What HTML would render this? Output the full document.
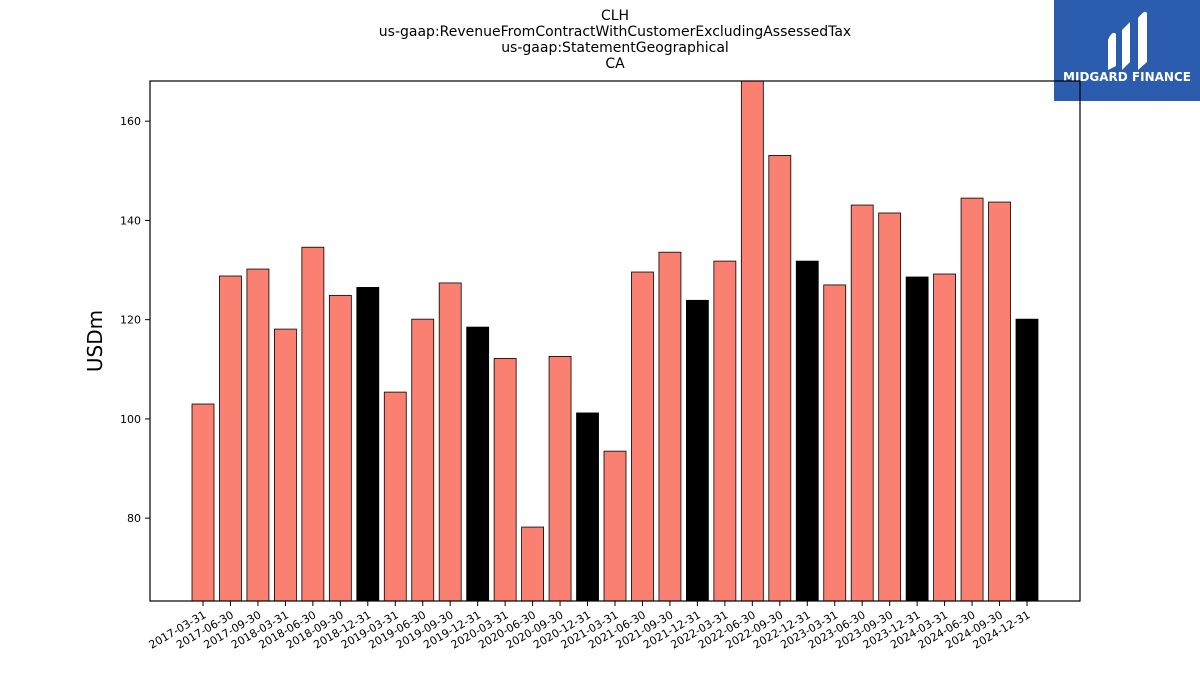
<!DOCTYPE html>
<html><head><meta charset="utf-8"><style>
body{margin:0;background:#fff;font-family:"Liberation Sans","DejaVu Sans",sans-serif}
</style></head><body>
<svg id="chart" width="1200" height="675" xmlns="http://www.w3.org/2000/svg" font-family="DejaVu Sans, Liberation Sans, sans-serif">
<g font-size="14" text-anchor="middle" fill="#000">
<text x="615" y="20">CLH</text>
<text x="615" y="36">us-gaap:RevenueFromContractWithCustomerExcludingAssessedTax</text>
<text x="615" y="52">us-gaap:StatementGeographical</text>
<text x="615" y="68">CA</text>
</g>
<g>
<rect x="1054" y="0" width="146" height="101" fill="#2b5cad"/>
<path d="M1108 70 L1108 40 Q1112 30 1116 34 L1116 66 Z M1122 70 L1122 30 L1130 22 L1130 62 Z M1138 70 L1138 18 Q1146 8 1147 14 L1147 62 Z" fill="#fff"/>
<text x="1127" y="81" font-size="12" font-weight="bold" fill="#fff" text-anchor="middle">MIDGARD FINANCE</text>
</g>
<g id="bars"></g>
<rect x="150" y="81" width="930" height="520" fill="none" stroke="#000" stroke-width="1.2"/>
<g id="yaxis" font-size="11"></g>
<g id="xaxis" font-size="11"></g>
<text x="102" y="341" font-size="20" text-anchor="middle" transform="rotate(-90 102 341)">USDm</text>
</svg>
<script>
const categories=["2017-03-31","2017-06-30","2017-09-30","2018-03-31","2018-06-30","2018-09-30","2018-12-31","2019-03-31","2019-06-30","2019-09-30","2019-12-31","2020-03-31","2020-06-30","2020-09-30","2020-12-31","2021-03-31","2021-06-30","2021-09-30","2021-12-31","2022-03-31","2022-06-30","2022-09-30","2022-12-31","2023-03-31","2023-06-30","2023-09-30","2023-12-31","2024-03-31","2024-06-30","2024-09-30","2024-12-31"];
const values=[103.0,128.8,130.2,118.1,134.6,124.9,126.5,105.4,120.1,127.4,118.5,112.2,78.2,112.6,101.2,93.5,129.6,133.6,123.9,131.8,170,153.1,131.8,127.0,143.1,141.5,128.6,129.2,144.5,143.7,120.1];
const yTicks=[80,100,120,140,160];
const NS="http://www.w3.org/2000/svg";
const yMin=63.3,yMax=168.1,plotTop=81,plotBot=601,plotLeft=150,plotRight=1080;
const yS=v=>plotBot-(Math.min(v,yMax)-yMin)/(yMax-yMin)*(plotBot-plotTop);
const step=(1027-203)/(categories.length-1);
const xS=i=>203+i*step;
function mk(t,a,p){const e=document.createElementNS(NS,t);for(const k in a)e.setAttribute(k,a[k]);p.appendChild(e);return e;}
const bars=document.getElementById('bars'),ya=document.getElementById('yaxis'),xa=document.getElementById('xaxis');
values.forEach((v,i)=>{
 const yearEnd=categories[i].endsWith("12-31");
 const r=mk('rect',{x:xS(i)-11,y:yS(v),width:22,height:plotBot-yS(v),fill:yearEnd?'#000':'#fa8072',stroke:'#000','stroke-width':0.8},bars);
 
 
});
yTicks.forEach(t=>{
 const l=mk('line',{x1:plotLeft-5,x2:plotLeft,y1:yS(t),y2:yS(t),stroke:'#000'},ya);
 
 
 const tx=mk('text',{x:plotLeft-9,y:yS(t)+4,'text-anchor':'end'},ya);tx.textContent=t;
 
 
});
categories.forEach((c,i)=>{
 const l=mk('line',{x1:xS(i),x2:xS(i),y1:plotBot,y2:plotBot+5,stroke:'#000'},xa);
 
 
 const tx=mk('text',{x:xS(i)+4,y:plotBot+16,'text-anchor':'end',transform:`rotate(-30 ${xS(i)+4} ${plotBot+16})`},xa);tx.textContent=c;
 
 
});
</script>
</body></html>
